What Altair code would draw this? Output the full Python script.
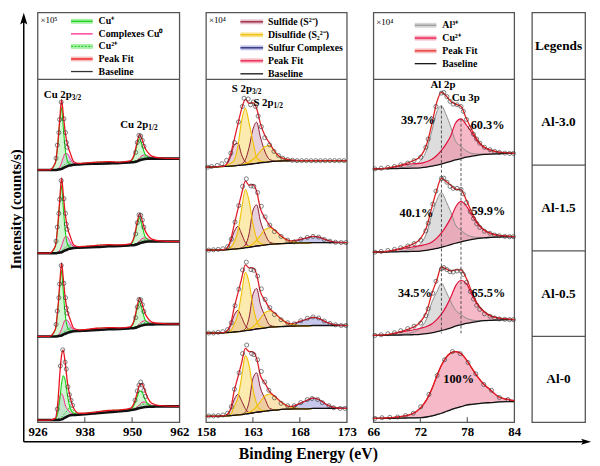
import altair as alt
import pandas as pd

FONT = "Liberation Serif"
SAMPLES = ["Al-3.0", "Al-1.5", "Al-0.5", "Al-0"]
STACK = {"Al-3.0": 72.9, "Al-1.5": 48.6, "Al-0.5": 24.3, "Al-0": 0.0}
LEG_H = 68
PLOT_H = 348
TOTAL_H = LEG_H + PLOT_H
Y_MAX = 100 * TOTAL_H / PLOT_H

# ---------------- Cu 2p ----------------
cu_ticks = [926, 938, 950, 962]
cu_x = [926, 929, 930.5, 931.2, 931.7, 932.1, 932.5, 933.0, 933.6, 934.3, 935.2, 936.5, 938,
        941, 944, 947, 949.5, 950.6, 951.3, 951.9, 952.5, 953.2, 954.0, 955.0, 957, 962]
cu_base = {
    "Al-3.0": [0.7, 0.7, 0.7, 0.8, 0.9, 1.0, 1.2, 1.5, 1.8, 2.0, 2.2, 2.3, 2.4, 2.5, 2.6, 2.7, 2.9, 3.0, 3.2, 3.5, 3.7, 3.9, 4.0, 4.0, 4.0, 4.0],
    "Al-1.5": [0.7, 0.7, 0.7, 0.8, 0.9, 1.0, 1.2, 1.5, 1.8, 2.0, 2.2, 2.3, 2.4, 2.5, 2.7, 2.8, 3.0, 3.1, 3.3, 3.6, 3.8, 4.0, 4.1, 4.1, 4.1, 4.1],
    "Al-0.5": [0.7, 0.7, 0.7, 0.8, 0.9, 1.0, 1.2, 1.5, 1.8, 2.0, 2.2, 2.3, 2.4, 2.6, 2.8, 2.9, 3.1, 3.2, 3.4, 3.7, 3.9, 4.1, 4.2, 4.2, 4.3, 4.3],
    "Al-0":   [0.6, 0.6, 0.6, 0.65, 0.7, 0.8, 1.0, 1.3, 1.7, 2.0, 2.1, 2.2, 2.3, 2.6, 2.9, 3.2, 3.5, 3.7, 3.9, 4.1, 4.3, 4.4, 4.5, 4.5, 4.6, 4.6],
}
cu_plus = {
    "Al-3.0": [0, 0, 2.0, 8.0, 14.5, 18.0, 12.5, 5.5, 1.5, 0.4, 0.1, 0, 0, 0, 0, 0, 0.2, 2.0, 5.0, 6.3, 4.3, 1.6, 0.5, 0.1, 0, 0],
    "Al-1.5": [0, 0, 2.0, 8.5, 15.5, 19.5, 13.5, 6.0, 1.6, 0.4, 0.1, 0, 0, 0, 0, 0, 0.2, 2.3, 5.8, 7.4, 5.0, 1.8, 0.5, 0.1, 0, 0],
    "Al-0.5": [0, 0, 2.0, 8.3, 15.2, 19.0, 13.2, 5.8, 1.6, 0.4, 0.1, 0, 0, 0, 0, 0, 0.2, 2.2, 5.5, 7.0, 4.8, 1.7, 0.5, 0.1, 0, 0],
    "Al-0":   [0, 0, 0.3, 2.5, 6.5, 10.5, 12.5, 11.0, 6.0, 2.0, 0.5, 0.1, 0, 0, 0, 0, 0.2, 1.5, 3.5, 5.0, 4.5, 2.5, 0.8, 0.2, 0, 0],
}
cu_zero = {
    "Al-3.0": [0, 0, 0, 0.2, 0.8, 1.8, 3.0, 4.0, 3.6, 2.0, 0.4, 0.1, 0, 0, 0, 0, 0, 0.1, 0.3, 0.7, 1.1, 1.2, 0.8, 0.3, 0.1, 0],
    "Al-1.5": [0, 0, 0, 0.2, 0.8, 1.8, 3.0, 4.0, 3.6, 2.0, 0.4, 0.1, 0, 0, 0, 0, 0, 0.1, 0.3, 0.7, 1.1, 1.2, 0.8, 0.3, 0.1, 0],
    "Al-0.5": [0, 0, 0, 0.2, 0.8, 1.8, 3.0, 4.0, 3.6, 2.0, 0.4, 0.1, 0, 0, 0, 0, 0, 0.1, 0.3, 0.7, 1.1, 1.2, 0.8, 0.3, 0.1, 0],
    "Al-0":   [0, 0, 0.2, 3.0, 7.0, 7.5, 6.5, 3.8, 2.0, 0.8, 0.2, 0, 0, 0, 0, 0, 0, 0.2, 0.5, 1.0, 1.5, 1.5, 1.0, 0.4, 0.1, 0],
}
cu_two = {
    "Al-3.0": [0, 0, 0, 0.1, 0.2, 0.4, 0.6, 0.9, 1.1, 1.2, 0.4, 0.2, 0.3, 0.5, 0.5, 0.3, 0.2, 0.3, 0.4, 0.5, 0.6, 0.6, 0.5, 0.3, 0.1, 0],
    "Al-1.5": [0, 0, 0, 0.1, 0.2, 0.4, 0.6, 0.9, 1.1, 1.2, 0.4, 0.2, 0.3, 0.5, 0.5, 0.3, 0.2, 0.3, 0.4, 0.5, 0.6, 0.6, 0.5, 0.3, 0.1, 0],
    "Al-0.5": [0, 0, 0, 0.1, 0.2, 0.4, 0.6, 0.9, 1.1, 1.2, 0.4, 0.2, 0.3, 0.5, 0.5, 0.3, 0.2, 0.3, 0.4, 0.5, 0.6, 0.6, 0.5, 0.3, 0.1, 0],
    "Al-0":   [0, 0, 0, 0.3, 0.5, 0.7, 1.0, 1.4, 1.8, 2.4, 1.2, 0.3, 0.3, 0.4, 0.5, 0.4, 0.3, 0.4, 0.6, 0.8, 0.9, 0.9, 0.7, 0.4, 0.1, 0],
}
cu_pts_x = {
    "Al-3.0": [930.7, 931.0, 931.4, 931.6, 932.0, 932.7, 933.1, 933.3, 933.5, 950.9, 951.3, 951.75, 952.2, 952.6, 953.0],
    "Al-1.5": [930.7, 931.0, 931.4, 931.6, 932.0, 932.7, 933.1, 933.3, 933.5, 950.9, 951.3, 951.75, 952.2, 952.6, 953.0],
    "Al-0.5": [930.7, 931.0, 931.4, 931.6, 932.0, 932.7, 933.1, 933.3, 933.5, 950.9, 951.3, 951.75, 952.2, 952.6, 953.0],
    "Al-0":   [931.0, 931.8, 932.4, 933.0, 933.3, 933.7, 934.1, 934.5, 934.9, 950.75, 951.3, 951.75, 952.2, 952.6, 953.0, 953.4],
}
cu_pts_y = {
    "Al-3.0": [4.1, 7.9, 11.6, 15.4, 20.5, 15.6, 11.6, 8.7, 7.3, 5.8, 8.7, 10.8, 10.6, 9.3, 7.6],
    "Al-1.5": [4.2, 8.3, 12.3, 16.4, 21.9, 16.6, 12.3, 9.2, 7.7, 6.3, 9.6, 11.9, 11.8, 10.4, 8.3],
    "Al-0.5": [4.2, 8.1, 12.0, 16.0, 21.4, 16.2, 12.0, 9.0, 7.5, 6.2, 9.3, 11.5, 11.4, 10.0, 8.0],
    "Al-0":   [3.8, 16.4, 21.1, 17.5, 15.5, 10.3, 8.0, 6.4, 4.9, 6.4, 9.1, 10.8, 11.7, 10.8, 9.3, 7.5],
}

# ---------------- S 2p ----------------
s_ticks = [158, 163, 168, 173]
s_x = [158, 159, 160, 160.6, 161.0, 161.4, 161.8, 162.2, 162.6, 163.0, 163.4, 163.8, 164.3,
       164.8, 165.4, 166.0, 167.0, 168.0, 168.8, 169.4, 170.0, 170.8, 171.8, 173]
s_base = {
    "Al-3.0": [1.5, 1.6, 1.7, 1.8, 1.9, 2.0, 2.1, 2.2, 2.3, 2.5, 2.6, 2.8, 2.9, 3.1, 3.2, 3.3, 3.4, 3.4, 3.4, 3.4, 3.4, 3.4, 3.4, 3.4],
    "Al-1.5": [1.6, 1.6, 1.7, 1.8, 1.9, 2.0, 2.1, 2.3, 2.4, 2.6, 2.8, 2.9, 3.1, 3.3, 3.4, 3.5, 3.6, 3.7, 3.7, 3.8, 3.8, 3.8, 3.8, 3.8],
    "Al-0.5": [1.7, 1.7, 1.8, 1.9, 2.0, 2.1, 2.2, 2.4, 2.5, 2.7, 2.9, 3.0, 3.2, 3.4, 3.5, 3.6, 3.7, 3.8, 3.8, 3.9, 3.9, 3.9, 3.9, 3.9],
    "Al-0":   [1.7, 1.7, 1.8, 1.9, 2.0, 2.1, 2.2, 2.4, 2.5, 2.7, 2.9, 3.0, 3.2, 3.4, 3.5, 3.7, 3.8, 3.9, 3.9, 4.0, 4.0, 4.0, 4.0, 4.0],
}
s_sulf_a = {
    "Al-3.0": [0, 0, 0.2, 2.5, 6.0, 6.5, 3.0, 0.8, 0.1, 0, 0, 0, 0, 0, 0, 0, 0, 0, 0, 0, 0, 0, 0, 0],
    "Al-1.5": [0, 0, 0.1, 2.0, 5.0, 6.5, 4.2, 1.5, 0.3, 0, 0, 0, 0, 0, 0, 0, 0, 0, 0, 0, 0, 0, 0, 0],
    "Al-0.5": [0, 0, 0.1, 1.8, 4.8, 6.2, 4.1, 1.5, 0.3, 0, 0, 0, 0, 0, 0, 0, 0, 0, 0, 0, 0, 0, 0, 0],
    "Al-0":   [0, 0, 0.1, 1.5, 4.5, 6.0, 4.0, 1.5, 0.3, 0, 0, 0, 0, 0, 0, 0, 0, 0, 0, 0, 0, 0, 0, 0],
}
s_sulf_b = {
    "Al-3.0": [0, 0, 0, 0, 0, 0, 0.3, 1.5, 5.0, 10.0, 12.0, 7.5, 3.0, 0.6, 0.1, 0, 0, 0, 0, 0, 0, 0, 0, 0],
    "Al-1.5": [0, 0, 0, 0, 0, 0, 0.2, 0.8, 4.0, 10.5, 12.0, 7.2, 3.2, 0.6, 0.1, 0, 0, 0, 0, 0, 0, 0, 0, 0],
    "Al-0.5": [0, 0, 0, 0, 0, 0, 0.1, 0.6, 3.8, 10.2, 11.8, 7.1, 3.4, 0.6, 0.1, 0, 0, 0, 0, 0, 0, 0, 0, 0],
    "Al-0":   [0, 0, 0, 0, 0, 0, 0.1, 0.5, 3.5, 10.0, 11.5, 7.0, 3.5, 0.6, 0.1, 0, 0, 0, 0, 0, 0, 0, 0, 0],
}
s_disulf_a = {
    "Al-3.0": [0, 0, 0, 0.8, 1.5, 5.5, 13.0, 16.5, 12.0, 6.5, 1.8, 0.5, 0.1, 0, 0, 0, 0, 0, 0, 0, 0, 0, 0, 0],
    "Al-1.5": [0, 0, 0, 0.5, 2.0, 5.0, 11.5, 17.0, 13.5, 6.8, 2.2, 0.6, 0.1, 0, 0, 0, 0, 0, 0, 0, 0, 0, 0, 0],
    "Al-0.5": [0, 0, 0, 0.4, 2.2, 5.0, 11.2, 17.0, 13.8, 7.0, 2.4, 0.6, 0.1, 0, 0, 0, 0, 0, 0, 0, 0, 0, 0, 0],
    "Al-0":   [0, 0, 0, 0.3, 2.5, 5.0, 11.0, 17.0, 14.0, 7.0, 2.5, 0.6, 0.1, 0, 0, 0, 0, 0, 0, 0, 0, 0, 0, 0],
}
s_disulf_b = {
    "Al-3.0": [0, 0, 0, 0, 0, 0, 0.1, 0.3, 0.7, 1.3, 2.2, 3.4, 4.6, 4.7, 2.5, 1.0, 0.2, 0, 0, 0, 0, 0, 0, 0],
    "Al-1.5": [0, 0, 0, 0, 0, 0, 0, 0.1, 0.3, 0.8, 1.7, 3.0, 4.5, 4.8, 3.8, 2.2, 0.6, 0.1, 0, 0, 0, 0, 0, 0],
    "Al-0.5": [0, 0, 0, 0, 0, 0, 0, 0.1, 0.3, 0.8, 1.7, 3.0, 4.5, 4.8, 3.8, 2.2, 0.6, 0.1, 0, 0, 0, 0, 0, 0],
    "Al-0":   [0, 0, 0, 0, 0, 0, 0, 0.1, 0.3, 0.8, 1.7, 3.0, 4.5, 4.8, 3.8, 2.2, 0.6, 0.1, 0, 0, 0, 0, 0, 0],
}
s_complex = {
    "Al-3.0": [0, 0, 0, 0, 0, 0, 0, 0, 0, 0, 0, 0, 0, 0, 0, 0, 0, 0, 0, 0, 0, 0, 0, 0],
    "Al-1.5": [0, 0, 0, 0, 0, 0, 0, 0, 0, 0, 0, 0, 0, 0, 0, 0, 0.1, 0.9, 1.5, 1.8, 1.6, 0.8, 0.1, 0],
    "Al-0.5": [0, 0, 0, 0, 0, 0, 0, 0, 0, 0, 0, 0, 0, 0, 0, 0, 0.1, 1.2, 2.0, 2.4, 2.1, 1.0, 0.2, 0],
    "Al-0":   [0, 0, 0, 0, 0, 0, 0, 0, 0, 0, 0, 0, 0, 0, 0, 0, 0.1, 1.5, 2.5, 3.0, 2.6, 1.2, 0.2, 0],
}
s_pts_x = {
    "Al-3.0": [158.2, 158.6, 159.2, 159.7, 160.2, 160.65, 161.04, 161.46, 161.88, 162.06, 162.5, 162.75,
               163.04, 163.28, 163.56, 163.9, 164.26, 164.78, 165.24, 165.73, 166.18, 166.7, 167.2, 167.7,
               168.2, 168.7, 169.2, 169.7, 170.2, 170.7, 171.2, 171.7, 172.2, 172.7],
    "Al-1.5": [158.3, 158.8, 159.3, 159.8, 160.3, 160.7, 161.1, 161.5, 161.9, 162.3, 162.8, 163.1, 163.5,
               163.9, 164.3, 164.8, 165.3, 166.0, 166.7, 167.4, 168.1, 168.8, 169.4, 170.0, 170.6, 171.2,
               171.8, 172.4, 172.9],
    "Al-0.5": [158.3, 158.8, 159.3, 159.8, 160.3, 160.7, 161.1, 161.5, 161.9, 162.3, 162.8, 163.1, 163.5,
               163.9, 164.3, 164.8, 165.3, 166.0, 166.7, 167.4, 168.1, 168.8, 169.4, 170.0, 170.6, 171.2,
               171.8, 172.4, 172.9],
    "Al-0":   [158.3, 158.8, 159.3, 159.8, 160.3, 160.7, 161.04, 161.53, 161.9, 162.34, 162.86, 163.1, 163.5,
               163.9, 164.26, 164.7, 165.3, 166.0, 166.7, 167.4, 168.1, 168.8, 169.3, 169.9, 170.4, 171.1,
               171.6, 172.3, 172.8],
}
s_pts_y = {
    "Al-3.0": [1.5, 1.7, 2.0, 2.5, 3.5, 5.6, 8.7, 14.7, 19.2, 21.6, 21.4, 19.7, 20.5, 19.2, 16.4, 13.3, 10.1,
               8.0, 6.1, 4.9, 4.1, 3.7, 3.5, 3.4, 3.4, 3.4, 3.4, 3.4, 3.4, 3.4, 3.4, 3.4, 3.4, 3.4],
    "Al-1.5": [1.6, 1.7, 1.8, 2.0, 2.6, 4.8, 9.8, 14.6, 20.2, 22.4, 20.3, 20.2, 18.4, 14.4, 11.3, 8.9, 7.0,
               5.6, 4.5, 4.0, 4.8, 5.3, 5.6, 5.4, 4.7, 4.2, 3.9, 3.8, 3.8],
    "Al-0.5": [1.7, 1.7, 1.9, 2.1, 2.7, 4.7, 9.7, 14.5, 20.1, 22.4, 20.2, 20.0, 18.3, 14.6, 11.5, 9.1, 7.1,
               5.6, 4.7, 4.4, 5.3, 6.0, 6.4, 6.1, 5.2, 4.5, 4.1, 3.9, 3.9],
    "Al-0":   [1.8, 1.8, 1.9, 2.1, 2.6, 4.5, 9.6, 14.4, 20.0, 22.5, 20.0, 19.7, 18.2, 14.8, 11.7, 9.3, 7.1,
               5.5, 4.8, 4.8, 5.7, 6.6, 6.9, 6.6, 5.7, 4.8, 4.2, 4.0, 4.0],
}

# ---------------- Al 2p / Cu 3p ----------------
al_ticks = [66, 72, 78, 84]
al_x = [66, 67.5, 69, 70, 71, 72, 72.8, 73.5, 74.1, 74.7, 75.3, 75.9, 76.5, 77.2, 77.9, 78.6,
        79.4, 80.2, 81, 82, 83, 84]
al_base = {
    "Al-3.0": [1.0, 1.05, 1.1, 1.15, 1.2, 1.3, 1.5, 1.8, 2.1, 2.4, 2.8, 3.2, 3.6, 4.0, 4.4, 4.7, 5.0, 5.2, 5.3, 5.4, 5.5, 5.5],
    "Al-1.5": [1.0, 1.05, 1.1, 1.15, 1.2, 1.3, 1.5, 1.8, 2.1, 2.4, 2.8, 3.2, 3.6, 4.0, 4.4, 4.7, 5.0, 5.2, 5.3, 5.4, 5.5, 5.5],
    "Al-0.5": [1.0, 1.05, 1.1, 1.15, 1.2, 1.3, 1.5, 1.8, 2.1, 2.4, 2.8, 3.2, 3.7, 4.1, 4.5, 4.8, 5.1, 5.3, 5.4, 5.5, 5.6, 5.6],
    "Al-0":   [1.1, 1.1, 1.15, 1.2, 1.25, 1.3, 1.5, 1.8, 2.2, 2.6, 3.1, 3.6, 4.1, 4.5, 5.0, 5.2, 5.4, 5.6, 5.7, 5.9, 6.0, 6.0],
}
al_al3 = {
    "Al-3.0": [0, 0, 0.1, 0.3, 0.8, 2.0, 5.0, 10.5, 15.5, 17.0, 14.0, 10.0, 5.5, 3.6, 1.8, 0.8, 0.3, 0.1, 0, 0, 0, 0],
    "Al-1.5": [0, 0, 0.1, 0.3, 0.8, 2.0, 5.0, 10.3, 14.0, 16.0, 13.0, 9.5, 5.3, 3.4, 1.7, 0.8, 0.3, 0.1, 0, 0, 0, 0],
    "Al-0.5": [0, 0, 0.1, 0.3, 0.7, 1.8, 4.3, 9.0, 11.5, 13.8, 11.0, 7.6, 4.7, 3.0, 1.5, 0.7, 0.2, 0.1, 0, 0, 0, 0],
    "Al-0":   [0, 0, 0, 0, 0, 0, 0, 0, 0, 0, 0, 0, 0, 0, 0, 0, 0, 0, 0, 0, 0, 0],
}
al_cu2 = {
    "Al-3.0": [0, 0.1, 0.6, 1.0, 1.3, 1.3, 1.6, 2.0, 2.8, 4.0, 5.5, 7.5, 10.8, 11.6, 9.4, 6.8, 3.8, 2.0, 1.2, 0.5, 0.2, 0],
    "Al-1.5": [0, 0.1, 0.6, 1.0, 1.3, 1.6, 1.8, 2.2, 3.0, 4.2, 5.8, 7.8, 10.5, 11.8, 10.0, 7.0, 4.0, 2.1, 1.2, 0.5, 0.2, 0],
    "Al-0.5": [0, 0.1, 0.6, 1.0, 1.4, 1.8, 2.1, 2.6, 3.5, 4.8, 6.6, 9.0, 11.7, 13.0, 11.6, 8.0, 4.6, 2.5, 1.3, 0.6, 0.2, 0],
    "Al-0":   [0, 0.1, 0.3, 0.6, 1.2, 2.8, 5.0, 8.0, 11.2, 14.0, 15.8, 16.6, 16.5, 15.5, 13.2, 10.5, 7.6, 5.3, 3.6, 1.5, 0.7, 0.3],
}
al_px_common = [66.2, 67.0, 67.85, 68.7, 69.5, 70.4, 71.2, 72.05, 72.7, 73.0, 73.6, 74.0, 74.7, 75.0, 75.4,
                75.8, 76.2, 76.7, 77.2, 77.5, 77.9, 78.4, 78.8, 79.2, 79.6, 80.2, 80.9, 81.5, 82.1, 82.8,
                83.4, 83.9]
al_pts_x = {
    "Al-3.0": al_px_common,
    "Al-1.5": al_px_common,
    "Al-0.5": al_px_common,
    "Al-0": [66.2, 67.1, 68.1, 69.1, 70.1, 71.1, 72.05, 73.1, 74.15, 75.1, 76.1, 77.1, 78.1, 79.1, 80.1,
             81.1, 82.1, 83.2],
}
al_pts_y = {
    "Al-3.0": [1.0, 1.2, 1.4, 1.7, 2.2, 2.7, 3.4, 4.4, 7.3, 9.7, 15.4, 19.2, 23.1, 23.3, 22.1, 20.7, 19.9,
               19.7, 19.2, 17.8, 15.4, 13.0, 11.1, 9.7, 8.5, 7.3, 6.6, 6.1, 5.8, 5.6, 5.5, 5.5],
    "Al-1.5": [1.0, 1.2, 1.5, 1.8, 2.3, 2.8, 3.5, 4.5, 7.2, 9.5, 15.0, 18.8, 22.5, 22.6, 21.4, 20.2, 19.6,
               19.6, 19.3, 18.0, 15.5, 12.8, 10.8, 9.3, 8.2, 7.1, 6.5, 6.0, 5.8, 5.6, 5.5, 5.5],
    "Al-0.5": [1.0, 1.2, 1.5, 1.8, 2.4, 3.0, 3.7, 4.6, 6.8, 8.8, 13.3, 16.8, 20.4, 20.8, 20.2, 19.6, 19.5,
               19.8, 19.8, 18.8, 16.5, 13.8, 11.6, 9.8, 8.6, 7.3, 6.6, 6.1, 5.8, 5.7, 5.6, 5.6],
    "Al-0": [1.1, 1.3, 1.4, 1.5, 1.9, 2.6, 4.5, 8.1, 13.6, 18.2, 20.6, 20.0, 17.4, 14.1, 11.0, 9.3, 7.2, 6.6],
}
al_pct_text = ["39.7%", "60.3%", "40.1%", "59.9%", "34.5%", "65.5%", "100%"]
al_pct_x = [71.7, 80.6, 71.5, 80.7, 71.3, 80.7, 76.9]
al_pct_y = [88.0, 86.6, 60.9, 61.5, 37.6, 37.6, 12.6]
al_dash_x = [74.7, 77.2]
al_dash_top = [92.3, 88.5]
al_dash_bot = [25.9, 25.9]

# ---------------- legends ----------------
cu_leg = ["Cu⁺", "Complexes Cu⁰", "Cu²⁺", "Peak Fit", "Baseline"]
s_leg = ["Sulfide (S²⁻)", "Disulfide (S₂²⁻)", "Sulfur Complexes", "Peak Fit", "Baseline"]
al_leg = ["Al³⁺", "Cu²⁺", "Peak Fit", "Baseline"]

ONE = pd.DataFrame({"k": [0]})
NOVIEW = alt.ViewBackground(stroke="transparent")


def comp_df(xs, base, comp):
    rows = []
    for s in SAMPLES:
        for x, b, c in zip(xs, base[s], comp[s]):
            lo = STACK[s] + b
            rows.append({"sample": s, "x": x, "lo": lo, "hi": lo + c})
    return pd.DataFrame(rows)


def fit_df(xs, base, comps):
    rows = []
    for s in SAMPLES:
        for i, x in enumerate(xs):
            lo = STACK[s] + base[s][i]
            rows.append({"sample": s, "x": x, "base": lo, "fit": lo + sum(c[s][i] for c in comps)})
    return pd.DataFrame(rows)


def pts_df(px, py):
    rows = []
    for s in SAMPLES:
        for x, y in zip(px[s], py[s]):
            rows.append({"sample": s, "x": x, "y": STACK[s] + y})
    return pd.DataFrame(rows)


YSC = alt.Scale(domain=[0, Y_MAX], nice=False, zero=False)


def Y(f):
    return alt.Y(f + ":Q", scale=YSC, axis=None, stack=False)


def make_x(dom, ticks):
    return alt.X("x:Q", scale=alt.Scale(domain=dom, nice=False, zero=False),
                 axis=alt.Axis(values=ticks, labelFlush=False, domain=False, ticks=False, grid=False,
                               labelFont=FONT, labelFontWeight="bold", labelFontSize=13,
                               labelColor="black", labelPadding=4, labelOverlap=False),
                 title=None)


def legend_layers(labels, fills, lines, dashes, x1, x2, xt, y0, dy, mult, my, width):
    layers = []
    for i, (lab, fc, lc, dsh) in enumerate(zip(labels, fills, lines, dashes)):
        yv = y0 + dy * i
        if fc != "none":
            layers.append(alt.Chart(ONE).mark_rule(strokeWidth=5, color=fc).encode(
                x=alt.value(x1), x2=alt.value(x2), y=alt.value(yv)))
        kw = {"strokeDash": [2, 1.5]} if dsh == "dot" else {}
        layers.append(alt.Chart(ONE).mark_rule(strokeWidth=1.3, color=lc, **kw).encode(
            x=alt.value(x1), x2=alt.value(x2), y=alt.value(yv)))
        layers.append(alt.Chart(pd.DataFrame({"t": [lab]})).mark_text(
            align="left", baseline="middle", font=FONT, fontWeight="bold", fontSize=10, color="black").encode(
            x=alt.value(xt), y=alt.value(yv), text="t:N"))
    layers.append(alt.Chart(pd.DataFrame({"t": [mult]})).mark_text(
        align="left", baseline="middle", font=FONT, fontSize=9, color="black").encode(
        x=alt.value(3), y=alt.value(my), text="t:N"))
    layers.append(alt.Chart(ONE).mark_rule(color="#555555", strokeWidth=1.3).encode(
        x=alt.value(0), x2=alt.value(width), y=alt.value(LEG_H)))
    return layers


def column(xs, base, comps, px, py, dom, ticks, width, base_w, fit_color, extra, legend):
    X = make_x(dom, ticks)
    layers = []
    cdfs = [comp_df(xs, base, c["data"]) for c in comps]
    for c, df in zip(comps, cdfs):
        layers.append(alt.Chart(df).mark_area(interpolate="monotone", color=c["fill"], opacity=c["op"])
                      .encode(x=X, y=Y("hi"), y2=alt.Y2("lo"), detail="sample:N"))
    for c, df in zip(comps, cdfs):
        kw = {"strokeDash": c["dash"]} if "dash" in c else {}
        layers.append(alt.Chart(df).mark_line(interpolate="monotone", color=c["line"], strokeWidth=c["lw"], **kw)
                      .encode(x=X, y=Y("hi"), detail="sample:N"))
    fdf = fit_df(xs, base, [c["data"] for c in comps])
    layers.append(alt.Chart(fdf).mark_line(interpolate="monotone", color="#111111", strokeWidth=base_w)
                  .encode(x=X, y=Y("base"), detail="sample:N"))
    layers.append(alt.Chart(fdf).mark_line(interpolate="monotone", color=fit_color, strokeWidth=1.3)
                  .encode(x=X, y=Y("fit"), detail="sample:N"))
    layers.append(alt.Chart(pts_df(px, py)).mark_point(shape="circle", size=17, filled=False,
                                                       strokeWidth=0.9, color="#333333")
                  .encode(x=X, y=Y("y")))
    tdf = pd.DataFrame({"x": ticks[1:-1]})
    layers.append(alt.Chart(tdf).mark_rule(color="#444444", strokeWidth=1)
                  .encode(x=X, y=alt.value(TOTAL_H), y2=alt.value(TOTAL_H - 5)))
    layers += extra(X)
    layers += legend_layers(*legend, width)
    return alt.layer(*layers).properties(width=width, height=TOTAL_H)


def orbital_labels(X, xs, ys, mains, subs):
    df = pd.DataFrame({"x": xs, "y": ys, "m": mains, "s": subs})
    main = alt.Chart(df).mark_text(align="right", baseline="middle", font=FONT, fontWeight="bold",
                                   fontSize=11, color="black").encode(x=X, y=Y("y"), text="m:N")
    sub = alt.Chart(df).mark_text(align="left", baseline="middle", font=FONT, fontWeight="bold",
                                  fontSize=7.5, dy=3, color="black").encode(x=X, y=Y("y"), text="s:N")
    return [main, sub]


def cu_extra(X):
    return orbital_labels(X, [934.7, 954.1], [95.5, 86.6], ["Cu 2p", "Cu 2p"], ["3/2", "1/2"])


def s_extra(X):
    return orbital_labels(X, [162.9, 165.2], [97.2, 93.0], ["S 2p", "S 2p"], ["3/2", "1/2"])


def al_extra(X):
    ddf = pd.DataFrame({"x": al_dash_x, "top": al_dash_top, "bot": al_dash_bot})
    dash = alt.Chart(ddf).mark_rule(strokeDash=[3, 2], color="#444444", strokeWidth=0.9).encode(
        x=X, y=Y("top"), y2=alt.Y2("bot"))
    ldf = pd.DataFrame({"x": [74.9, 77.8], "y": [98.4, 94.5], "t": ["Al 2p", "Cu 3p"]})
    lab = alt.Chart(ldf).mark_text(baseline="middle", font=FONT, fontWeight="bold", fontSize=11,
                                   color="black").encode(x=X, y=Y("y"), text="t:N")
    pdf = pd.DataFrame({"x": al_pct_x, "y": al_pct_y, "t": al_pct_text})
    pct = alt.Chart(pdf).mark_text(baseline="middle", font=FONT, fontWeight="bold", fontSize=12.5,
                                   color="black").encode(x=X, y=Y("y"), text="t:N")
    return [dash, lab, pct]


# ---------- columns ----------
col1 = column(
    cu_x, cu_base,
    [
        {"data": cu_two, "fill": "#a8eea8", "op": 0.45, "line": "#2ccf2c", "lw": 1.0, "dash": [2, 1.5]},
        {"data": cu_zero, "fill": "#b9abd8", "op": 0.6, "line": "#ff2590", "lw": 1.0},
        {"data": cu_plus, "fill": "#b4f2b4", "op": 0.6, "line": "#18d418", "lw": 1.1},
    ],
    cu_pts_x, cu_pts_y, [926, 962], cu_ticks, 144, 2.6, "#e8111e", cu_extra,
    (cu_leg, ["#a8f0a8", "none", "#a8f0a8", "#f7c0c0", "none"],
     ["#19d219", "#ff2590", "#2ccf2c", "#ee1111", "#333333"],
     ["solid", "solid", "dot", "solid", "solid"], 34, 56, 62, 9, 12.75, "×10⁵", 8))

col2 = column(
    s_x, s_base,
    [
        {"data": s_complex, "fill": "#aeb0e2", "op": 0.7, "line": "#23236a", "lw": 1.0},
        {"data": s_sulf_a, "fill": "#cfa3bb", "op": 0.5, "line": "#8e1a2e", "lw": 1.0},
        {"data": s_sulf_b, "fill": "#cfa3bb", "op": 0.5, "line": "#8e1a2e", "lw": 1.0},
        {"data": s_disulf_b, "fill": "#f5c96a", "op": 0.5, "line": "#f0c000", "lw": 1.1},
        {"data": s_disulf_a, "fill": "#f8d760", "op": 0.5, "line": "#f0c000", "lw": 1.1},
    ],
    s_pts_x, s_pts_y, [158, 173], s_ticks, 143, 1.3, "#e0202a", s_extra,
    (s_leg, ["#e2bfcc", "#f9e39a", "#c0c2ec", "#f7c0c8", "none"],
     ["#9b1b30", "#f0c000", "#23236a", "#e8174a", "#111111"],
     ["solid", "solid", "solid", "solid", "solid"], 35, 58, 63, 9.5, 13.2, "×10⁴", 8))

col3 = column(
    al_x, al_base,
    [
        {"data": al_al3, "fill": "#cfcfcf", "op": 0.7, "line": "#8c8c8c", "lw": 1.0},
        {"data": al_cu2, "fill": "#f08aa3", "op": 0.6, "line": "#e0103c", "lw": 1.2},
    ],
    al_pts_x, al_pts_y, [66, 84], al_ticks, 143, 1.3, "#e01e1e", al_extra,
    (al_leg, ["#d6d6d6", "#f7b3c2", "#f7c0c0", "none"],
     ["#9a9a9a", "#e8174a", "#e83030", "#111111"],
     ["solid", "solid", "solid", "solid"], 42, 64, 70, 13, 13, "×10⁴", 10))

# column 4: sample names
n = len(SAMPLES)
RSC = alt.Scale(domain=[0, n * TOTAL_H / PLOT_H], nice=False, zero=False)
sdf = pd.DataFrame({"sample": SAMPLES, "pos": [n - i - 0.5 for i in range(n)]})
divdf = pd.DataFrame({"d": list(range(1, n + 1))})
names = alt.Chart(sdf).mark_text(font=FONT, fontWeight="bold", fontSize=13.5, color="black",
                                 baseline="middle").encode(
    x=alt.value(27), y=alt.Y("pos:Q", scale=RSC, axis=None), text="sample:N")
divs = alt.Chart(divdf).mark_rule(color="#555555", strokeWidth=1.3).encode(
    y=alt.Y("d:Q", scale=RSC, axis=None), x=alt.value(0), x2=alt.value(54))
leg4 = alt.Chart(pd.DataFrame({"t": ["Legends"]})).mark_text(
    font=FONT, fontWeight="bold", fontSize=13.5, color="black", baseline="middle").encode(
    x=alt.value(27), y=alt.value(34), text="t:N")
col4 = alt.layer(divs, names, leg4).properties(width=54, height=TOTAL_H)

# left strip with both axis arrows and titles (marks may extend past the strip)
ARROW_UP = "M0,-1L0.55,0.8L0,0.45L-0.55,0.8Z"
ARROW_RIGHT = "M1,0L-0.8,0.55L-0.45,0L-0.8,-0.55Z"
AX_Y = TOTAL_H + 20
v_line = alt.Chart(ONE).mark_rule(color="black", strokeWidth=1.5).encode(
    x=alt.value(14), y=alt.value(8), y2=alt.value(AX_Y))
v_head = alt.Chart(ONE).mark_point(shape=ARROW_UP, size=178, filled=True, color="black", opacity=1).encode(
    x=alt.value(14), y=alt.value(7))
v_text = alt.Chart(pd.DataFrame({"t": ["Intensity (counts/s)"]})).mark_text(
    angle=270, font=FONT, fontWeight="bold", fontSize=15, color="black", baseline="middle").encode(
    x=alt.value(6), y=alt.value(200), text="t:N")
h_line = alt.Chart(ONE).mark_rule(color="black", strokeWidth=1.5).encode(
    x=alt.value(14), x2=alt.value(584), y=alt.value(AX_Y))
h_head = alt.Chart(ONE).mark_point(shape=ARROW_RIGHT, size=125, filled=True, color="black", opacity=1).encode(
    x=alt.value(584.5), y=alt.value(AX_Y))
h_text = alt.Chart(pd.DataFrame({"t": ["Binding Energy (eV)"]})).mark_text(
    font=FONT, fontWeight="bold", fontSize=16, color="black", baseline="middle").encode(
    x=alt.value(303), y=alt.value(AX_Y + 12), text="t:N")
left_strip = alt.layer(v_line, v_head, v_text, h_line, h_head, h_text).properties(
    width=28, height=TOTAL_H, view=NOVIEW)


def spacer(w):
    return alt.Chart(ONE).mark_point(opacity=0, size=1).encode(
        x=alt.value(w / 2), y=alt.value(TOTAL_H / 2)).properties(width=w, height=TOTAL_H, view=NOVIEW)


chart = alt.hconcat(left_strip, col1, spacer(27), col2, spacer(27), col3, spacer(18), col4,
                    spacing=0, bounds="flush").properties(padding=0).configure_view(
    stroke="#555555", strokeWidth=1.3)

chart.save("out.html", embed_options={"renderer": "svg", "actions": False})
